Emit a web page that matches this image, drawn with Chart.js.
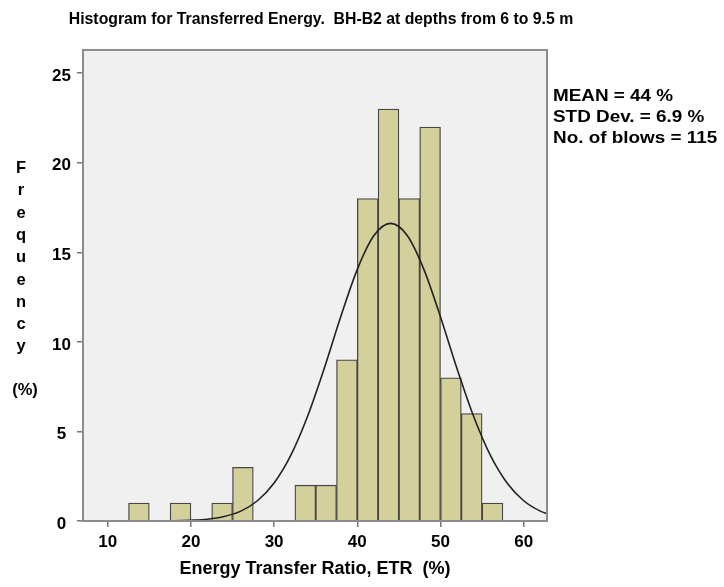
<!DOCTYPE html>
<html>
<head>
<meta charset="utf-8">
<script src="https://cdn.jsdelivr.net/npm/chart.js@4.4.0/dist/chart.umd.min.js"></script>
<style>
  html, body { margin: 0; padding: 0; background: #fff; }
</style>
</head>
<body>
<canvas id="etr-chart" width="724" height="587"></canvas>
<script>
// Histogram bins (2.5 % wide), given by their centres
const binCentres = [13.75, 18.75, 23.75, 26.25, 33.75, 36.25, 38.75, 41.25, 43.75, 46.25, 48.75, 51.25, 53.75, 56.25];
const binCounts = [1, 1, 1, 3, 2, 2, 9, 18, 23, 18, 22, 8, 6, 1];

// Fitted normal curve
const curveX = [7, 10, 14, 18, 20, 22, 24, 26, 28, 30, 32, 34, 36, 38, 40, 42, 44, 46, 48, 50, 52, 54, 56, 58, 60, 62, 63];
const curveY = [0, 0, 0, 0.01, 0.04, 0.1, 0.25, 0.55, 1.13, 2.12, 3.66, 5.82, 8.49, 11.39, 14.05, 15.94, 16.62, 15.94, 14.05, 11.39, 8.49, 5.82, 3.66, 2.12, 1.13, 0.55, 0.38];

const xTicks = [10, 20, 30, 40, 50, 60];
const yTicks = [0, 5, 10, 15, 20, 25];

const titleText = 'Histogram for Transferred Energy.  BH-B2 at depths from 6 to 9.5 m';
const xTitle = 'Energy Transfer Ratio, ETR  (%)';
const yTitleLetters = ['F', 'r', 'e', 'q', 'u', 'e', 'n', 'c', 'y'];
const yTitleUnit = '(%)';
const statLines = ['MEAN = 44 %', 'STD Dev. = 6.9 %', 'No. of blows = 115'];

const FONT = "'Liberation Sans', Arial, sans-serif";

// grey plot background and frame
const plotFrame = {
  id: 'plotFrame',
  beforeDraw(chart) {
    const {ctx, chartArea: a} = chart;
    ctx.save();
    ctx.fillStyle = '#f0f0f0';
    ctx.fillRect(a.left, a.top, a.right - a.left, a.bottom - a.top);
    ctx.restore();
  },
  afterDatasetsDraw(chart) {
    const {ctx, chartArea: a} = chart;
    ctx.save();
    ctx.strokeStyle = '#8c8c8c';
    ctx.lineWidth = 2;
    ctx.strokeRect(a.left, a.top, a.right - a.left, a.bottom - a.top);
    ctx.restore();
  }
};

// stacked y title letters and the stats block on the right
const sideText = {
  id: 'sideText',
  afterDraw(chart) {
    const ctx = chart.ctx;
    ctx.save();
    ctx.fillStyle = '#000';
    ctx.font = 'bold 16.5px ' + FONT;
    ctx.textAlign = 'center';
    ctx.textBaseline = 'alphabetic';
    yTitleLetters.forEach((ch, i) => {
      ctx.fillText(ch, 21, 173 + i * 22.3);
    });
    ctx.fillText(yTitleUnit, 25, 395);

    ctx.font = 'bold 16px ' + FONT;
    ctx.textAlign = 'left';
    statLines.forEach((line, i) => {
      ctx.save();
      ctx.translate(553, 100.5 + i * 21.3);
      ctx.scale(1.18, 1);
      ctx.fillText(line, 0, 0);
      ctx.restore();
    });
    ctx.restore();
  }
};

const ctx = document.getElementById('etr-chart').getContext('2d');
new Chart(ctx, {
  type: 'bar',
  data: {
    datasets: [
      {
        type: 'line',
        order: 0,
        data: curveX.map((x, i) => ({x: x, y: curveY[i]})),
        borderColor: '#222',
        borderWidth: 1.6,
        pointRadius: 0,
        tension: 0.4,
        cubicInterpolationMode: 'monotone',
        fill: false
      },
      {
        type: 'bar',
        order: 1,
        data: binCentres.map((x, i) => ({x: x, y: binCounts[i]})),
        backgroundColor: '#d4d09b',
        borderColor: '#474747',
        borderWidth: 1.3,
        barPercentage: 1,
        categoryPercentage: 1
      }
    ]
  },
  options: {
    responsive: false,
    animation: false,
    devicePixelRatio: 1,
    layout: {padding: {left: 0, right: 82, top: 0, bottom: 0}},
    plugins: {
      legend: {display: false},
      tooltip: {enabled: false},
      title: {
        display: true,
        text: titleText,
        color: '#000',
        font: {family: FONT, size: 15.8, weight: 'bold'},
        padding: {top: 10, bottom: 21}
      }
    },
    scales: {
      x: {
        type: 'linear',
        min: 7.03,
        max: 62.8,
        offset: false,
        afterBuildTicks: (s) => { s.ticks = xTicks.map(v => ({value: v})); },
        afterFit: (s) => { s.height = 66; },
        grid: {display: true, drawOnChartArea: false, offset: false, tickLength: 6, color: '#777', lineWidth: 1.5},
        border: {display: false},
        ticks: {color: '#000', font: {family: FONT, size: 17, weight: 'bold'}, padding: 5, maxRotation: 0},
        title: {display: true, text: xTitle, color: '#000', font: {family: FONT, size: 18, weight: 'bold'}, padding: {top: 0, bottom: 7}}
      },
      y: {
        min: 0,
        max: 26.3,
        afterBuildTicks: (s) => { s.ticks = yTicks.map(v => ({value: v})); },
        afterFit: (s) => { s.width = 83; },
        grid: {display: true, drawOnChartArea: false, tickLength: 6, color: '#777', lineWidth: 1.5},
        border: {display: false},
        ticks: {color: '#000', font: {family: FONT, size: 17, weight: 'bold'}, padding: 6, crossAlign: 'center', labelOffset: 3}
      },
      y2: {
        position: 'right',
        min: 0,
        max: 1,
        afterFit: (s) => { s.width = 95; },
        grid: {display: false},
        border: {display: false},
        ticks: {display: false}
      }
    }
  },
  plugins: [plotFrame, sideText]
});
</script>
</body>
</html>
